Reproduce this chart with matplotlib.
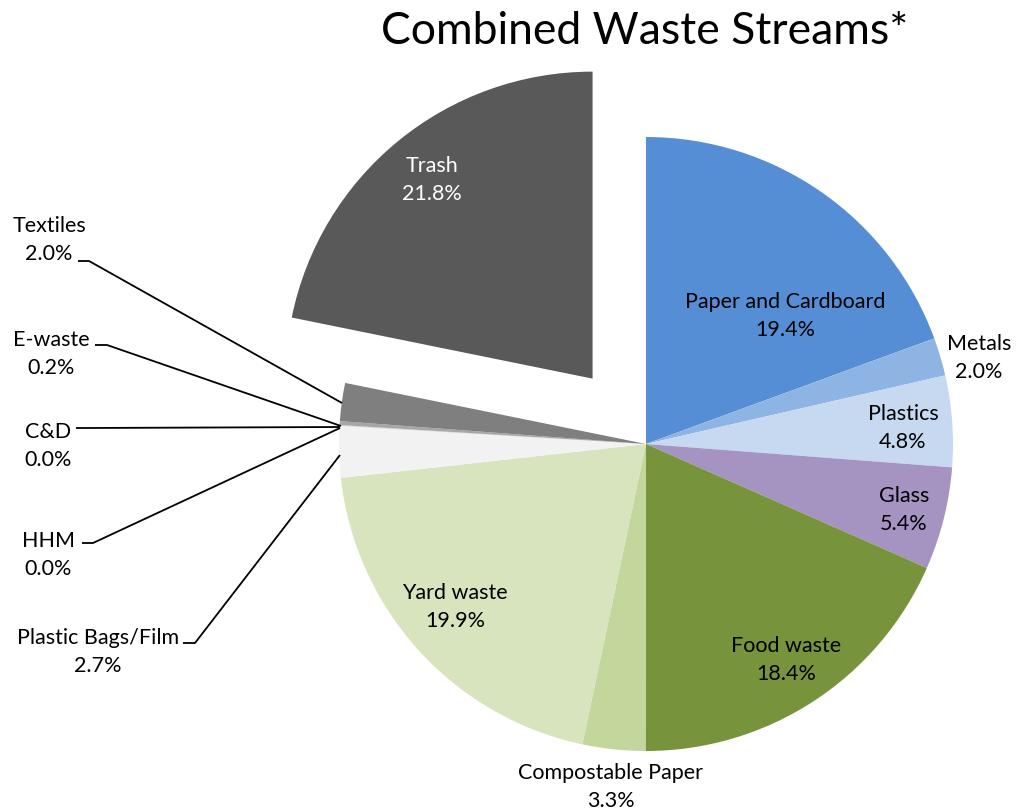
import matplotlib.pyplot as plt

# Combined waste streams, share of total (%), clockwise from 12 o'clock
categories = ['Paper and Cardboard', 'Metals', 'Plastics', 'Glass', 'Food waste',
              'Compostable Paper', 'Yard waste', 'Plastic Bags/Film', 'HHM', 'C&D',
              'E-waste', 'Textiles', 'Trash']
shares = [19.4, 2.0, 4.8, 5.4, 18.4, 3.3, 19.9, 2.7, 0.03, 0.02, 0.2, 2.0, 21.8]

colors = ['#558ED5', '#8EB4E3', '#C6D9F1', '#A593C1', '#77933C', '#C3D69B', '#D7E4BD',
          '#F2F2F2', '#D9D9D9', '#BFBFBF', '#A6A6A6', '#7F7F7F', '#595959']

W, H = 1018, 812
cx, cy, r = 646, H - 445, 307
explode = [0.0] * 12 + [0.275 * r]

# label anchors (pixel coords, y from top) and leader lines for the small slices
label_pos = {
    'Paper and Cardboard': (785, 316), 'Metals': (979, 358), 'Plastics': (903, 428),
    'Glass': (904, 510), 'Food waste': (786, 660), 'Compostable Paper': (611, 787),
    'Yard waste': (455, 607), 'Plastic Bags/Film': (98, 652), 'HHM': (48, 555),
    'C&D': (48, 446), 'E-waste': (51, 354), 'Textiles': (49, 240), 'Trash': (432, 180),
}
leaders = {
    'Textiles': [(78, 262), (89, 262), (342, 404)],
    'E-waste': [(95, 346), (107, 346), (341, 427)],
    'C&D': [(76, 429), (87, 429), (340, 428)],
    'HHM': [(82, 544), (93, 544), (340, 429)],
    'Plastic Bags/Film': [(183, 644), (195, 644), (340, 456)],
}

plt.rcParams['font.family'] = ['Lato', 'DejaVu Sans']

fig = plt.figure(figsize=(W / 100, H / 100), dpi=100)
ax = fig.add_axes([0, 0, 1, 1])

ax.pie(shares, colors=colors, explode=explode, startangle=90, counterclock=False,
       center=(cx, cy), radius=r, wedgeprops=dict(linewidth=0))
ax.set_xlim(0, W)
ax.set_ylim(0, H)
ax.set_aspect('equal')
ax.axis('off')

total = sum(shares)
for name, val in zip(categories, shares):
    x, y = label_pos[name]
    pct = round(val / total * 100, 1)
    ax.text(x, H - y, f"{name}\n{pct:.1f}%", ha='center', va='center',
            fontsize=15.5, linespacing=1.55,
            color='white' if name == 'Trash' else 'black')

for name, pts in leaders.items():
    xs = [p[0] for p in pts]
    ys = [H - p[1] for p in pts]
    ax.plot(xs, ys, color='black', lw=1.3, solid_capstyle='butt')

ax.text(645, H - 32, 'Combined Waste Streams*', ha='center', va='center', fontsize=32)

fig.savefig('out.png', dpi=100)
